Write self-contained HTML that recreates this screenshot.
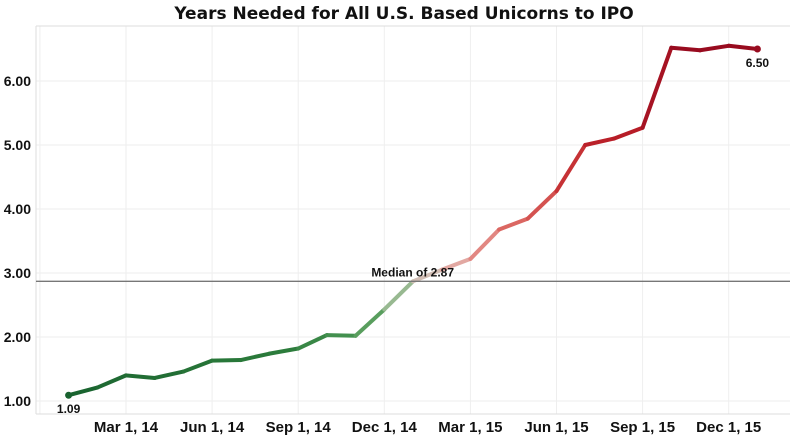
<!DOCTYPE html>
<html><head><meta charset="utf-8"><style>
body{margin:0;background:#fff;width:800px;height:442px;overflow:hidden}
svg{display:block}
text{font-family:"Liberation Sans",sans-serif;font-weight:bold;fill:#111}
</style></head><body>
<svg id="c" width="800" height="442">
<text x="404" y="19" text-anchor="middle" style="font-family:'DejaVu Sans',sans-serif;font-size:17px">Years Needed for All U.S. Based Unicorns to IPO</text>
<g id="grid"></g><g id="axes"></g><g id="line"></g><g id="labels"></g>
</svg>
<script>
const months = ["Jan 14","Feb 14","Mar 14","Apr 14","May 14","Jun 14","Jul 14","Aug 14","Sep 14","Oct 14","Nov 14","Dec 14","Jan 15","Feb 15","Mar 15","Apr 15","May 15","Jun 15","Jul 15","Aug 15","Sep 15","Oct 15","Nov 15","Dec 15","Jan 16"];
const values = [1.09,1.21,1.40,1.36,1.46,1.63,1.64,1.74,1.82,2.03,2.02,2.43,2.87,3.05,3.22,3.68,3.85,4.28,5.00,5.10,5.27,6.52,6.48,6.55,6.50];
const yTicks = [1,2,3,4,5,6];
const xTickIdx = [-1,2,5,8,11,14,17,20,23];
const xTickLabels = ["","Mar 1, 14","Jun 1, 14","Sep 1, 14","Dec 1, 14","Mar 1, 15","Jun 1, 15","Sep 1, 15","Dec 1, 15"];
const median = 2.87;

const NS="http://www.w3.org/2000/svg";
const X=i=>126+(i-2)*28.7;
const Y=v=>401-(v-1)*64;
function mk(tag,at,parent){const e=document.createElementNS(NS,tag);for(const k in at)e.setAttribute(k,at[k]);document.getElementById(parent).appendChild(e);return e;}
function lerp(a,b,t){return a.map((x,i)=>Math.round(x+(b[i]-x)*t));}
const stops=[[1.0,[22,95,45]],[1.8,[45,125,60]],[2.1,[75,150,85]],[2.5,[120,175,115]],[2.87,[200,200,190]],[3.2,[232,160,155]],[3.8,[218,100,95]],[4.4,[205,60,60]],[5.1,[185,30,40]],[6.6,[150,10,30]]];
function col(v){
  if(v<=stops[0][0])return stops[0][1];
  for(let k=0;k<stops.length-1;k++){const a=stops[k],b=stops[k+1];if(v<=b[0])return lerp(a[1],b[1],(v-a[0])/(b[0]-a[0]));}
  return stops[stops.length-1][1];
}
let f=mk('line',{x1:36,y1:26,x2:790,y2:26,stroke:'#ddd'},'axes');

f=mk('line',{x1:36,y1:26,x2:36,y2:414,stroke:'#ddd'},'axes');

f=mk('line',{x1:36,y1:414,x2:790,y2:414,stroke:'#ddd'},'axes');

yTicks.forEach(v=>{
  const l=mk('line',{x1:36,y1:Y(v),x2:790,y2:Y(v),stroke:'#eee'},'grid');
  
  const t=mk('text',{x:31,y:Y(v)+5,'text-anchor':'end','font-size':'14'},'axes');
  t.textContent=v.toFixed(2);
  
});
xTickIdx.forEach((i,k)=>{
  const l=mk('line',{x1:X(i),y1:26,x2:X(i),y2:414,stroke:'#eee'},'grid');
  
  if(xTickLabels[k]){const t=mk('text',{x:X(i),y:432,'text-anchor':'middle','font-size':'15'},'axes');
  t.textContent=xTickLabels[k];
  }
});
let m=mk('line',{x1:36,y1:Y(median),x2:790,y2:Y(median),stroke:'#777','stroke-width':1.3},'labels');

let mt=mk('text',{x:454,y:Y(median)-5,'text-anchor':'end','font-size':'12'},'labels');
mt.textContent='Median of '+median.toFixed(2);

for(let i=0;i<values.length-1;i++){
  const c=col((values[i]+values[i+1])/2);
  const s=mk('line',{x1:X(i),y1:Y(values[i]),x2:X(i+1),y2:Y(values[i+1]),stroke:`rgb(${c})`,'stroke-width':4,'stroke-linecap':'round'},'line');
  
}
const n=values.length-1;
[[0],[n]].forEach(([i])=>{
  const c=col(values[i]);
  const d=mk('circle',{cx:X(i),cy:Y(values[i]),r:3.5,fill:`rgb(${c})`},'line');
  
  const t=mk('text',{x:X(i),y:Y(values[i])+18,'text-anchor':'middle','font-size':'12'},'labels');
  t.textContent=values[i].toFixed(2);
  
});
</script>
</body></html>
